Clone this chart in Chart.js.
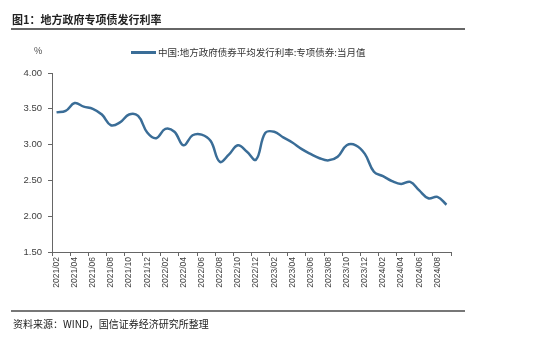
<!DOCTYPE html>
<html>
<head>
<meta charset="utf-8">
<script src="https://cdn.jsdelivr.net/npm/chart.js@4/dist/chart.umd.min.js"></script>
<style>
body{margin:0;background:#fff;font-family:"Noto Sans CJK SC","Liberation Sans",sans-serif;}
#wrap{position:relative;width:550px;height:339px;overflow:hidden;background:#fff;}
#wrap div{position:absolute;white-space:nowrap;}
canvas{position:absolute;left:0;top:0;}
</style>
</head>
<body>
<div id="wrap">
  <canvas id="rateChart" width="550" height="339"></canvas>
  <div style="left:12px;top:11px;font-size:11px;font-weight:bold;color:#222;">图1：地方政府专项债发行利率</div>
  <div style="left:11px;top:28px;width:454px;height:2px;background:#666;"></div>
  <div style="left:34px;top:44px;font-size:9px;color:#444;">%</div>
  <div id="legLine" style="left:131px;top:51px;width:25px;height:2.5px;"></div>
  <div id="legText" style="left:158px;top:45px;font-size:9.5px;color:#333;"></div>
  <div style="left:11px;top:310px;width:454px;height:1.5px;background:#777;"></div>
  <div style="left:13px;top:316px;font-size:10px;color:#222;">资料来源：WIND，国信证券经济研究所整理</div>
</div>
<script>
const months = [
  '2021/02','2021/03','2021/04','2021/05','2021/06','2021/07','2021/08','2021/09','2021/10','2021/11','2021/12',
  '2022/01','2022/02','2022/03','2022/04','2022/05','2022/06','2022/07','2022/08','2022/09','2022/10','2022/11','2022/12',
  '2023/01','2023/02','2023/03','2023/04','2023/05','2023/06','2023/07','2023/08','2023/09','2023/10','2023/11','2023/12',
  '2024/01','2024/02','2024/03','2024/04','2024/05','2024/06','2024/07','2024/08','2024/09'
];

const rates = [
  3.45,3.47,3.58,3.53,3.50,3.42,3.27,3.31,3.42,3.40,3.17,
  3.09,3.22,3.18,2.99,3.13,3.14,3.05,2.76,2.86,2.99,2.90,2.79,
  3.16,3.18,3.10,3.03,2.94,2.87,2.81,2.78,2.83,2.99,2.99,2.87,
  2.62,2.56,2.49,2.45,2.48,2.36,2.25,2.27,2.16
];

const yTicks = [1.5,2.0,2.5,3.0,3.5,4.0];
const seriesName = '中国:地方政府债券平均发行利率:专项债券:当月值';
const lineColor = '#3a6d97';

document.getElementById('legLine').style.background = lineColor;
document.getElementById('legText').textContent = seriesName;

const rateChart = new Chart(
    document.getElementById('rateChart'),
    {
        type:'line',
        data:{
            labels:months,
            datasets:[{
                label:seriesName,
                data:rates,
                borderColor:lineColor,
                backgroundColor:lineColor,
                borderWidth:2.5,
                pointRadius:0,
                tension:0.4
            }]
        },
        options:{
            responsive:false,
            animation:false,
            layout:{padding:{left:0,top:73,right:99,bottom:37}},
            plugins:{legend:{display:false},tooltip:{enabled:false}},
            scales:{
                x:{
                    type:'category',
                    offset:true,
                    afterFit:(s)=>{ s.height = 50; },
                    border:{display:true,color:'#666',width:1},
                    grid:{
                        offset:true,
                        drawOnChartArea:false,
                        drawTicks:true,
                        tickLength:4,
                        color:(c)=> (c.index === undefined || c.index % 2 === 0) ? '#666' : 'rgba(0,0,0,0)'
                    },
                    ticks:{
                        autoSkip:false,
                        maxRotation:90,
                        minRotation:90,
                        padding:1,
                        color:'#404040',
                        font:{family:'"Liberation Sans", Arial, sans-serif',size:8.5},
                        callback:function(v,i){ return i % 2 === 0 ? this.getLabelForValue(v) : ''; }
                    }
                },
                y:{
                    min:yTicks[0],
                    max:yTicks[yTicks.length-1],
                    afterFit:(s)=>{ s.width = 52; },
                    afterBuildTicks:(s)=>{ s.ticks = yTicks.map(v=>({value:v})); },
                    border:{display:true,color:'#666',width:1},
                    grid:{drawOnChartArea:false,drawTicks:true,tickLength:4,color:'#666'},
                    ticks:{
                        padding:6,
                        color:'#404040',
                        font:{family:'"Liberation Sans", Arial, sans-serif',size:9.5},
                        callback:(v)=>Number(v).toFixed(2)
                    }
                }
            }
        }
    }
);
</script>
</body>
</html>
